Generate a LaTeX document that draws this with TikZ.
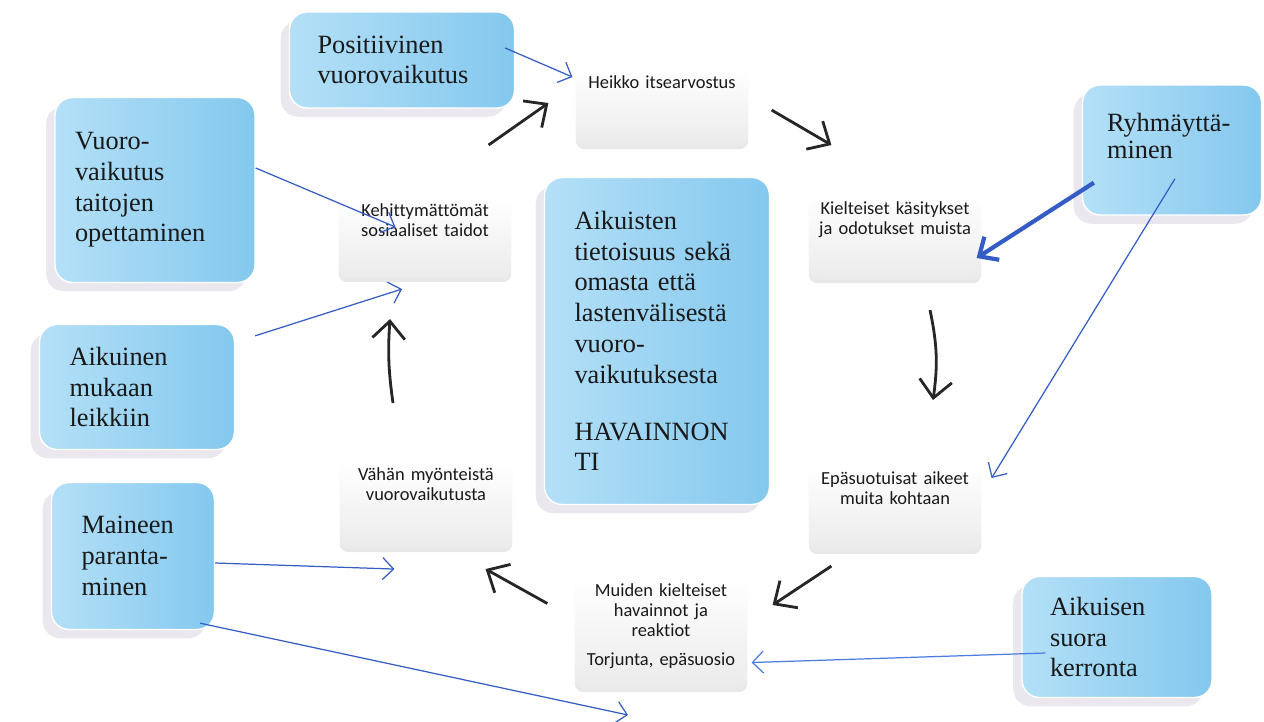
\documentclass[tikz,border=0pt]{standalone}
\usepackage{fontspec}
\setmainfont{Liberation Serif}
\newfontfamily\calfont[Ligatures=NoCommon]{Carlito}
\usetikzlibrary{calc,positioning,arrows.meta,shadows}
\definecolor{dropblue}{RGB}{132,200,238}
\definecolor{droplight}{RGB}{180,224,247}
\definecolor{linkblue}{RGB}{52,92,196}
\definecolor{lightlink}{RGB}{74,124,226}
\definecolor{shadowgray}{RGB}{160,150,178}

\begin{document}
\begin{tikzpicture}[
        x=0.02cm, y=-0.02cm,
        dropbox/.style={draw=white, line width=0.8pt, rounded corners=10pt,
            left color=droplight, right color=dropblue, inner sep=0pt,
            align=left, text=black!90, font=\fontsize{15}{17.5}\selectfont,
            drop shadow={shadow xshift=-5pt, shadow yshift=-5pt, opacity=0.22, fill=shadowgray}},
        whitebox/.style={rounded corners=5pt, top color=white, bottom color=black!8,
            anchor=north, inner xsep=2pt, inner ysep=3pt, minimum width=3.45cm, text width=3.3cm,
            align=center, text=black!90, font=\calfont\fontsize{10.5}{11.5}\selectfont,
            drop shadow={shadow xshift=0pt, shadow yshift=-2pt, opacity=0.18, fill=black!50}},
        cyclearrow/.style={-{Straight Barb[length=3.5mm,width=6.5mm]}, line width=1.6pt, black!85},
        bluearrow/.style={-{Straight Barb[length=2.2mm,width=4.4mm]}, line width=0.7pt, linkblue},
    ]
    \useasboundingbox (0,0) rectangle (1264,721);

    % Blue boxes
    \node[dropbox, minimum width=4.5cm, minimum height=1.92cm, text width=3.38cm] (pos) at (402,60) {Positiivinen\\ vuorovaikutus};
    \node[dropbox, minimum width=4cm, minimum height=3.7cm, text width=3.2cm] (taito) at (155,190) {Vuoro-\\ vaikutus\\ taitojen\\ opettaminen};
    \node[dropbox, minimum width=3.9cm, minimum height=2.5cm, text width=2.7cm] (aik) at (137,387) {Aikuinen\\ mukaan\\ leikkiin};
    \node[dropbox, minimum width=3.26cm, minimum height=2.94cm, text width=2.06cm] (mai) at (133,556) {Maineen\\ paranta-\\ minen};
    \node[dropbox, minimum width=3.58cm, text height=0.92cm, text depth=1.68cm, text width=2.6cm,
        font=\fontsize{15}{15.5}\selectfont] (ryh) at (1172,150) {Ryhmäyttä-\\ minen};
    \node[dropbox, minimum width=3.8cm, minimum height=2.42cm, text width=2.68cm] (suo) at (1117,637) {Aikuisen\\ suora\\ kerronta};
    \node[dropbox, minimum width=4.5cm, minimum height=6.54cm, text width=3.3cm] (mid) at (657,341)
        {Aikuisten\\ tietoisuus sekä\\ omasta että\\ lastenvälisestä\\ vuoro-\\ vaikutuksesta\\[15pt] HAVAINNON\\ TI};

    % Cycle
    \node[whitebox, text depth=1.04cm] (hei) at (662,70) {Heikko itsearvostus};
    \node[whitebox, text depth=1.2cm] (kie) at (895,196) {Kielteiset käsitykset\\ ja odotukset muista};
    \node[whitebox, text depth=1.22cm] (epa) at (895,466) {Epäsuotuisat aikeet\\ muita kohtaan};
    \node[whitebox, text depth=1.74cm] (mui) at (661,578) {Muiden kielteiset\\ havainnot ja\\ reaktiot\\[5pt] Torjunta, epäsuosio};
    \node[whitebox, text depth=1.26cm] (vah) at (426,462) {Vähän myönteistä\\ vuorovaikutusta};
    \node[whitebox, text depth=1.14cm] (keh) at (425,198) {Kehittymättömät\\ sosiaaliset taidot};
    \coordinate (away) at (628,715);

    \draw[cyclearrow] ($(keh.north east)+(-23,-53)$) -- ($(hei.west)+(-27,-5)$);
    \draw[cyclearrow] ($(hei.east)+(23,2)$) -- ($(kie.north west)+(23,-51)$);
    \draw[cyclearrow] ($(kie.south)+(35,30)$) to[bend left=10] ($(epa.north)+(38,-66)$);
    \draw[cyclearrow] ($(epa.south west)+(23,15)$) -- ($(mui.north east)+(25,27)$);
    \draw[cyclearrow] ($(mui.west)+(-27,-30)$) -- ($(vah.south east)+(-27,20)$);
    \draw[cyclearrow] ($(vah.north)+(-33,-59)$) to[bend left=6] ($(keh.south)+(-35,40)$);

    % Lines
    \draw[bluearrow] ($(pos.east)+(-10,-12)$) -- ($(hei.north west)+(-3,7)$);
    \draw[bluearrow] ($(taito.east)+(0,-22)$) -- ($(keh.north west)+(57,29)$);
    \draw[bluearrow] ($(aik.north east)+(20,12)$) -- ($(keh.south)+(-23,10)$);
    \draw[bluearrow, line width=2.4pt, -{Straight Barb[length=3mm,width=5.5mm]}] ($(ryh.south west)+(12,-33)$) -- ($(kie.east)+(-5,20)$);
    \draw[bluearrow] ($(ryh.south)+(3,-37)$) -- ($(epa.north east)+(10,12)$);
    \draw[bluearrow] ($(mai.east)+(0,7)$) -- ($(vah.south west)+(55,20)$);
    \draw[bluearrow] ($(mai.south east)+(-15,-7)$) -- (away);
    \draw[bluearrow, lightlink] ($(suo.west)+(24,16)$) -- ($(mui.east)+(4,29)$);

\end{tikzpicture}
\end{document}
